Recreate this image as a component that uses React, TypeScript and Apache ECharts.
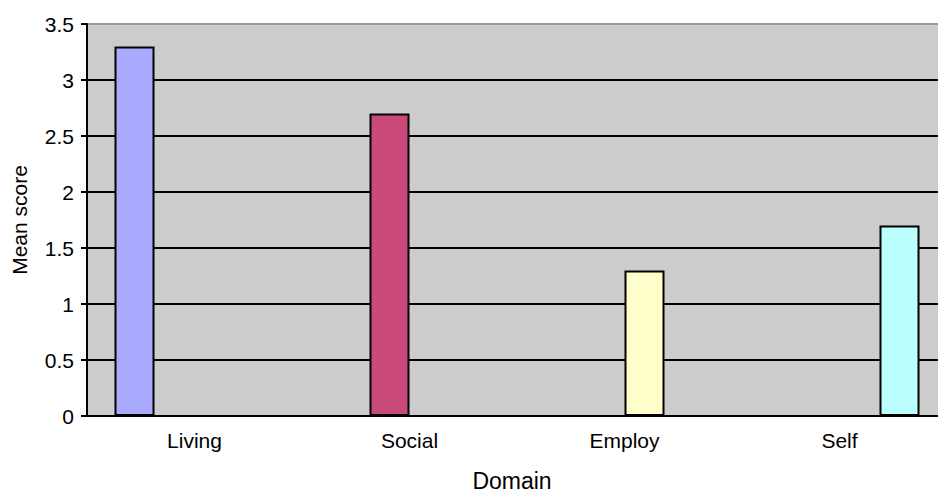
import React, { useEffect, useRef } from "react";
import * as echarts from "echarts";

const categories = ["Living", "Social", "Employ", "Self"];
const values = [3.3, 2.7, 1.3, 1.7];
const colors = ["#AAAAFF", "#C94A7A", "#FFFFCC", "#BBFFFF"];
const yTicks = { min: 0, max: 3.5, interval: 0.5 };

const FONT = "'Liberation Sans', Arial, sans-serif";

export default function App() {
  const ref = useRef<HTMLDivElement>(null);
  useEffect(() => {
    if (!ref.current) return;
    const chart = echarts.init(ref.current, undefined, { renderer: "svg" });
    const series = categories.map((c, i) => ({
      name: c,
      type: "bar",
      barWidth: 40,
      barGap: "0%",
      data: categories.map((_, j) => (j === i ? values[i] : "-")),
      itemStyle: { color: colors[i], borderColor: "#000", borderWidth: 2 },
    }));
    chart.setOption({
      animation: false,
      textStyle: { fontFamily: FONT },
      grid: {
        left: 87,
        top: 24,
        bottom: 77,
        right: -9,
        show: true,
        backgroundColor: "#CCCCCC",
        borderWidth: 0,
        containLabel: false,
        outerBoundsMode: "none",
      },
      xAxis: {
        type: "category",
        data: categories,
        name: "Domain",
        nameLocation: "middle",
        nameGap: 53,
        nameTextStyle: {
          fontSize: 23,
          lineHeight: 23,
          color: "#000",
          fontFamily: FONT,
          padding: [0, 10, 0, 0],
        },
        axisLine: { lineStyle: { color: "#000", width: 2 } },
        axisTick: { length: 5, lineStyle: { color: "#000", width: 2 } },
        axisLabel: { fontSize: 21, color: "#000", margin: 14, fontFamily: FONT },
      },
      yAxis: {
        type: "value",
        min: yTicks.min,
        max: yTicks.max,
        interval: yTicks.interval,
        name: "Mean score",
        nameLocation: "middle",
        nameGap: 57,
        nameTextStyle: { fontSize: 21, color: "#000", fontFamily: FONT },
        axisLine: { show: true, lineStyle: { color: "#000", width: 2 } },
        axisTick: { show: true, length: 6, lineStyle: { color: "#000", width: 2 } },
        axisLabel: { fontSize: 21, color: "#000", margin: 13, fontFamily: FONT },
        splitLine: {
          show: true,
          lineStyle: {
            color: ["#000", "#000", "#000", "#000", "#000", "#000", "#000", "#999"],
            width: 2,
          },
        },
      },
      series,
    });
    return () => chart.dispose();
  }, []);
  return (
    <div
      ref={ref}
      style={{ position: "fixed", left: 0, top: 0, width: 938, height: 493, background: "#fff" }}
    />
  );
}
